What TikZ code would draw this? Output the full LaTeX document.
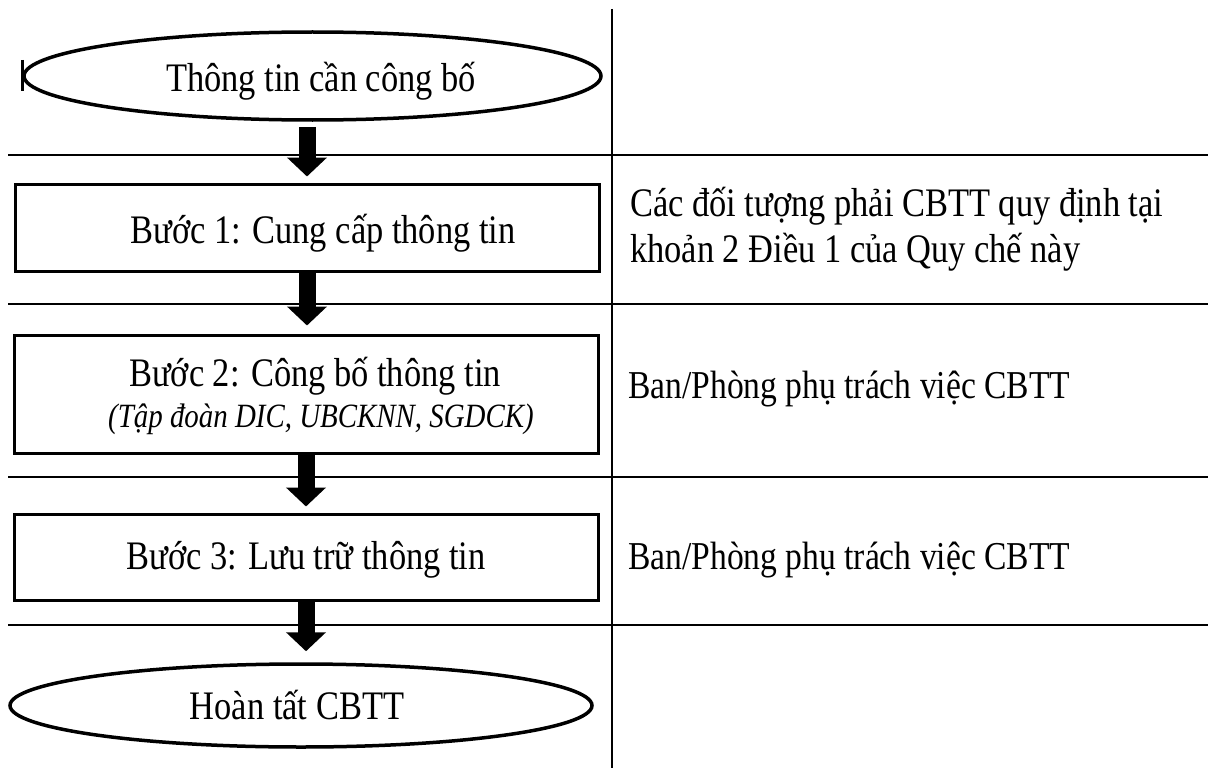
\documentclass[tikz,border=0pt]{standalone}
\usepackage{fontspec}
\setmainfont{Liberation Serif}[FakeStretch=0.85]
\usetikzlibrary{shapes.geometric,arrows.meta,positioning}
\tikzset{
  oval/.style={draw,ellipse,line width=3.5pt,inner sep=0pt},
  stepbox/.style={draw,rectangle,line width=3pt,minimum width=584pt,inner sep=0pt},
  flow/.style={-{Triangle[width=39pt,length=19pt]},line width=17pt},
  sepline/.style={line width=2.2pt},
  txt/.style={anchor=base,inner sep=0pt},
  note/.style={anchor=base west,inner sep=0pt},
}
\begin{document}
\begin{tikzpicture}[x=1pt,y=-1pt,font=\fontsize{40.5}{46}\selectfont]
  \useasboundingbox (0,0) rectangle (1208,768);
  % columns
  \foreach \h in {155,304,477,625}{
    \draw[sepline] (8,\h) -- (1208,\h);}
  \draw[sepline] (612,9) -- (612,768);
  %===========================================
  \node[oval,minimum width=577pt,minimum height=88pt] (start) at (312.5,76) {};
  \draw[line width=3pt] ([yshift=16pt]start.west) -- ([yshift=-15pt]start.west);
  \node[stepbox,minimum height=87pt] (s1) at (307,227.5) {};
  \node[stepbox,minimum height=118pt] (s2) at (306,394) {};
  \node[stepbox,minimum height=86pt] (s3) at (306,557) {};
  \node[oval,minimum width=582pt,minimum height=83pt] (done) at (301,705.5) {};
  \node[txt] (startlbl) at (321,92) {Thông tin cần công bố};
  \node[txt] (s1lbl) at (323,243) {Bước 1: Cung cấp thông tin};
  \node[txt] (s2lbl) at (315,386) {Bước 2: Công bố thông tin};
  \node[txt,font=\fontsize{34}{38}\selectfont\itshape] (s2sub) at (321,427) {(Tập đoàn DIC, UBCKNN, SGDCK)};
  \node[txt] (s3lbl) at (306,569) {Bước 3: Lưu trữ thông tin};
  \node[txt] (donelbl) at (297,719) {Hoàn tất CBTT};
  %===========================================
  \draw[flow,shorten <=5pt,shorten >=6pt] (s1.north |- start.south) -- (s1.north);
  \draw[flow,shorten >=8pt] (s1.south) -- (s2.north -| s1.south);
  \draw[flow,shorten >=6pt] (s2.south) -- (s3.north);
  \draw[flow,shorten >=11pt] (s3.south) -- (s3.south |- done.north);
  %===========================================
  \node[note] (who1) at (630,216) {Các đối tượng phải CBTT quy định tại};
  \node[note] (who1b) at (630,262) {khoản 2 Điều 1 của Quy chế này};
  \node[note,font=\fontsize{39.5}{46}\selectfont] (who2) at (628,398) {Ban/Phòng phụ trách việc CBTT};
  \node[note,font=\fontsize{39.5}{46}\selectfont] (who3) at (628,569) {Ban/Phòng phụ trách việc CBTT};
\end{tikzpicture}
\end{document}
